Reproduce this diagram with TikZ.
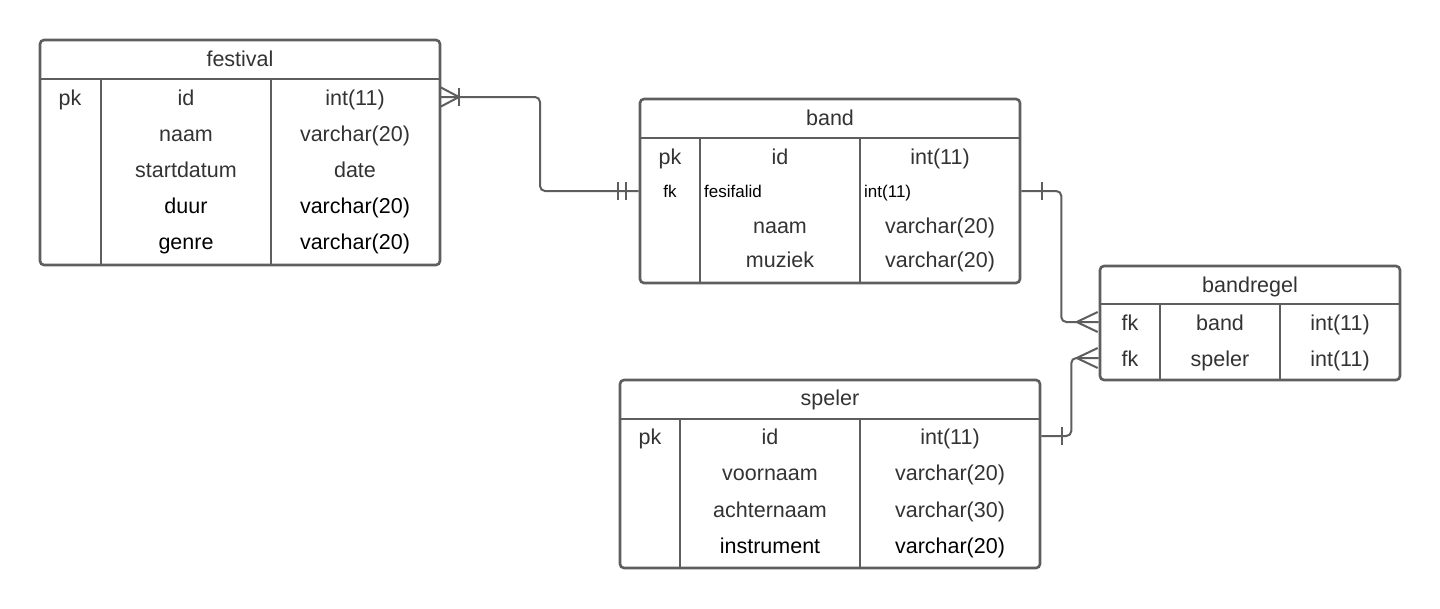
\documentclass[tikz,border=0pt]{standalone}
\usepackage{fontspec}
\setmainfont{Liberation Sans}
\usetikzlibrary{calc}
\definecolor{linegray}{HTML}{5E5E5E}
\definecolor{textgray}{HTML}{333333}
\tikzset{
  tbl/.style={draw=linegray, line width=2.6pt, rounded corners=4pt, inner sep=0pt},
  divline/.style={draw=linegray, line width=2.6pt},
  txt/.style={text=textgray, inner sep=0pt, anchor=base, font=\fontsize{21.5}{24}\selectfont},
  dtxt/.style={txt, text=black},
  stxt/.style={inner sep=0pt, text=black, font=\fontsize{17}{20}\selectfont},
  conn/.style={draw=linegray, line width=2pt, rounded corners=5pt},
  tickmark/.style={draw=linegray, line width=2pt}
}
\begin{document}
\begin{tikzpicture}[x=1pt,y=-1pt]
\useasboundingbox[fill=white] (0,0) rectangle (1440,608);

% ---------- festival ----------
\node[tbl, minimum width=400pt, minimum height=225pt] (festival) at (240,152.5) {};
\draw[divline] (40,79) -- (440,79);
\draw[divline] (101,79) -- (101,265);
\draw[divline] (271,79) -- (271,265);
\node[txt] (f-title) at (240,66) {festival};
\node[txt] (f-pk) at (70,105) {pk};
\node[txt] (f-id) at (186,105) {id};
\node[txt] (f-idt) at (355,105) {int(11)};
\node[txt] (f-naam) at (186,141) {naam};
\node[txt] (f-naamt) at (355,141) {varchar(20)};
\node[txt] (f-start) at (186,177) {startdatum};
\node[txt] (f-startt) at (355,177) {date};
\node[dtxt] (f-duur) at (186,213) {duur};
\node[dtxt] (f-duurt) at (355,213) {varchar(20)};
\node[dtxt] (f-genre) at (186,249) {genre};
\node[dtxt] (f-genret) at (355,249) {varchar(20)};

% ---------- band ----------
\node[tbl, minimum width=380pt, minimum height=184pt] (band) at (830,191) {};
\draw[divline] (640,138) -- (1020,138);
\draw[divline] (700,138) -- (700,283);
\draw[divline] (860,138) -- (860,283);
\node[txt] (b-title) at (830,125) {band};
\node[txt] (b-pk) at (670,164) {pk};
\node[txt] (b-id) at (780,164) {id};
\node[txt] (b-idt) at (940,164) {int(11)};
\node[stxt, anchor=base] (b-fk) at (670,197) {fk};
\node[stxt, anchor=base west] (b-fes) at (704,197) {fesifalid};
\node[stxt, anchor=base west] (b-fest) at (864,197) {int(11)};
\node[txt] (b-naam) at (780,233) {naam};
\node[txt] (b-naamt) at (940,233) {varchar(20)};
\node[txt] (b-muz) at (780,267) {muziek};
\node[txt] (b-muzt) at (940,267) {varchar(20)};

% ---------- bandregel ----------
\node[tbl, minimum width=300pt, minimum height=114pt] (regel) at (1250,323) {};
\draw[divline] (1100,304) -- (1400,304);
\draw[divline] (1160,304) -- (1160,380);
\draw[divline] (1280,304) -- (1280,380);
\node[txt] (r-title) at (1250,292) {bandregel};
\node[txt] (r-fk1) at (1130,330) {fk};
\node[txt] (r-band) at (1220,330) {band};
\node[txt] (r-bandt) at (1340,330) {int(11)};
\node[txt] (r-fk2) at (1130,366) {fk};
\node[txt] (r-speler) at (1220,366) {speler};
\node[txt] (r-spelert) at (1340,366) {int(11)};

% ---------- speler ----------
\node[tbl, minimum width=420pt, minimum height=188pt] (speler) at (830,474) {};
\draw[divline] (620,419) -- (1040,419);
\draw[divline] (680,419) -- (680,568);
\draw[divline] (860,419) -- (860,568);
\node[txt] (s-title) at (830,405) {speler};
\node[txt] (s-pk) at (650,444) {pk};
\node[txt] (s-id) at (770,444) {id};
\node[txt] (s-idt) at (950,444) {int(11)};
\node[txt] (s-voor) at (770,480) {voornaam};
\node[txt] (s-voort) at (950,480) {varchar(20)};
\node[txt] (s-acht) at (770,517) {achternaam};
\node[txt] (s-achtt) at (950,517) {varchar(30)};
\node[dtxt] (s-instr) at (770,553) {instrument};
\node[dtxt] (s-instrt) at (950,553) {varchar(20)};

% ---------- connector anchor points ----------
\coordinate (fA) at (440,97);
\coordinate (bA) at (band.west |- 0,191);
\coordinate (bB) at (band.east |- 0,191);
\coordinate (rA) at (regel.west |- 0,322);
\coordinate (rB) at (regel.west |- 0,358);
\coordinate (sA) at (speler.east |- 0,436);

% festival -- band
\draw[conn] (fA) -- ++(100,0) |- (bA);
\draw[tickmark] ($(fA)+(19,0)$) -- ($(fA)+(0,-10)$);
\draw[tickmark] ($(fA)+(19,0)$) -- ($(fA)+(0,10)$);
\draw[tickmark] ($(fA)+(19,-9)$) -- ($(fA)+(19,9)$);
\draw[tickmark] ($(bA)+(-21,-9)$) -- ($(bA)+(-21,9)$);
\draw[tickmark] ($(bA)+(-13,-9)$) -- ($(bA)+(-13,9)$);

% band -- bandregel
\draw[conn] (bB) -- ++(40,0) |- (rA);
\draw[tickmark] ($(bB)+(21,-9)$) -- ($(bB)+(21,9)$);
\draw[tickmark] ($(rA)+(-22,0)$) -- ($(rA)+(-1,-10)$);
\draw[tickmark] ($(rA)+(-22,0)$) -- ($(rA)+(-1,10)$);

% speler -- bandregel
\draw[conn] (sA) -- ++(30,0) |- (rB);
\draw[tickmark] ($(sA)+(21,-9)$) -- ($(sA)+(21,9)$);
\draw[tickmark] ($(rB)+(-22,0)$) -- ($(rB)+(-1,-10)$);
\draw[tickmark] ($(rB)+(-22,0)$) -- ($(rB)+(-1,10)$);
\end{tikzpicture}
\end{document}
